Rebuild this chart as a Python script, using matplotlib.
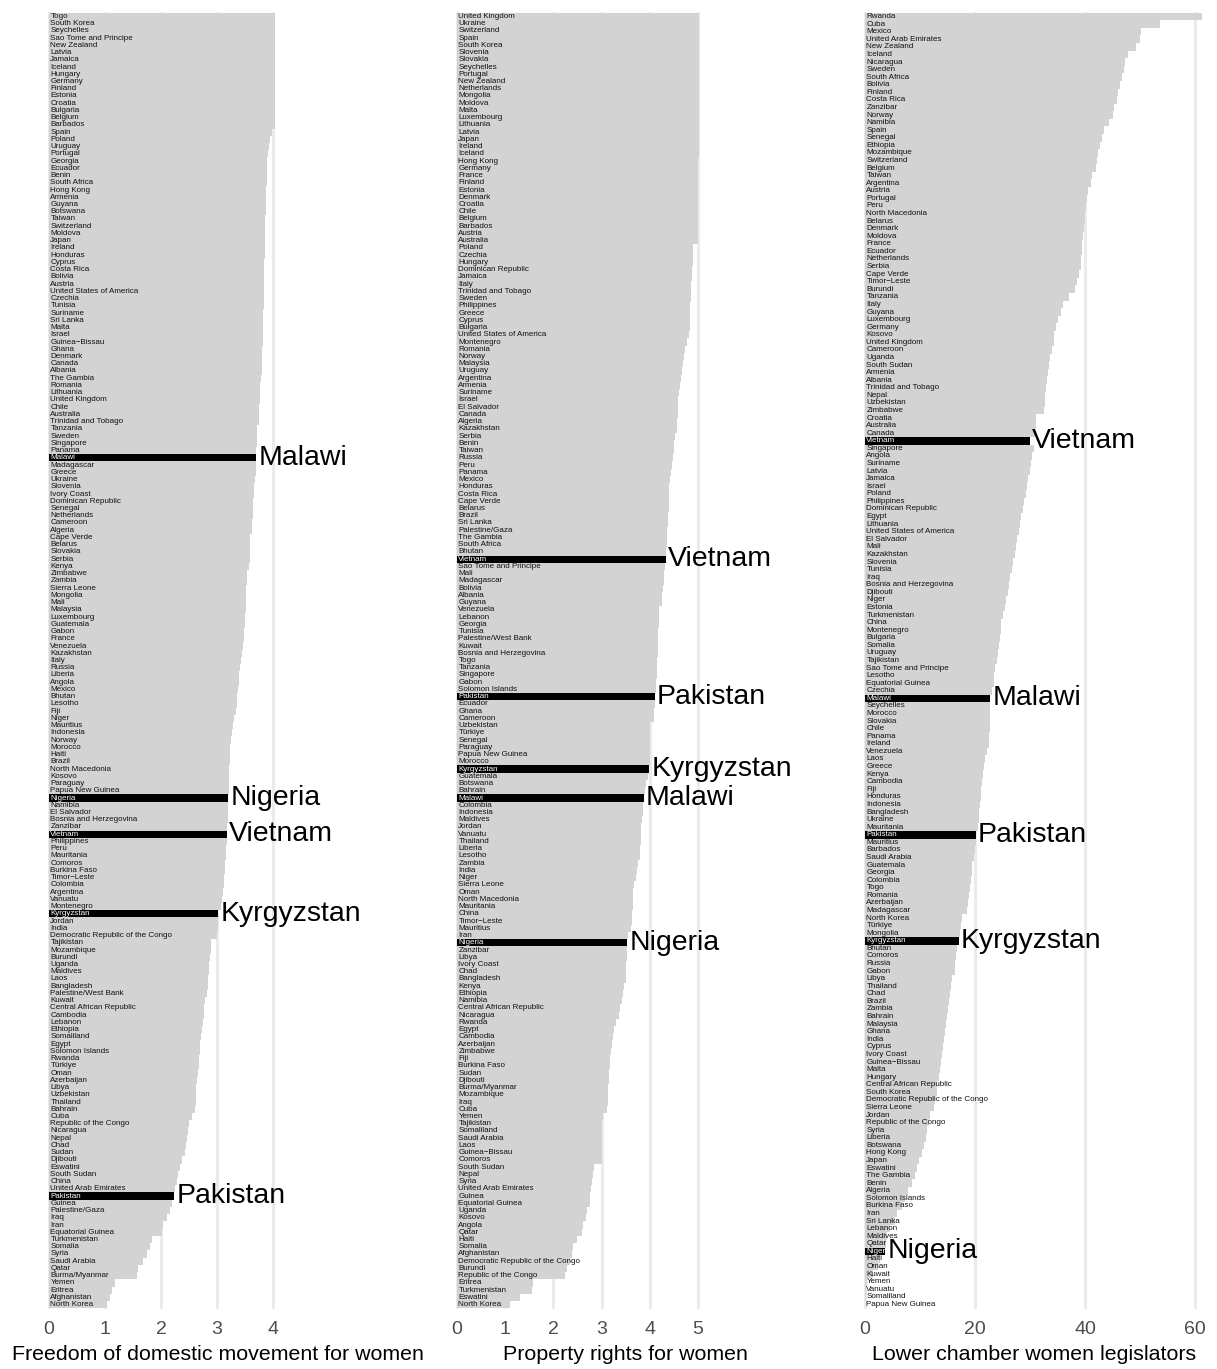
import matplotlib
matplotlib.use("Agg")
import matplotlib.pyplot as plt

plt.rcParams['font.family'] = ['Liberation Sans', 'DejaVu Sans']

HIGHLIGHT = ["Malawi", "Nigeria", "Vietnam", "Kyrgyzstan", "Pakistan"]

movement_countries = [
    "Togo", "South Korea", "Seychelles", "Sao Tome and Principe", "New Zealand", "Latvia", "Jamaica",
    "Iceland", "Hungary", "Germany", "Finland", "Estonia", "Croatia", "Bulgaria", "Belgium", "Barbados",
    "Spain", "Poland", "Uruguay", "Portugal", "Georgia", "Ecuador", "Benin", "South Africa", "Hong Kong",
    "Armenia", "Guyana", "Botswana", "Taiwan", "Switzerland", "Moldova", "Japan", "Ireland", "Honduras",
    "Cyprus", "Costa Rica", "Bolivia", "Austria", "United States of America", "Czechia", "Tunisia",
    "Suriname", "Sri Lanka", "Malta", "Israel", "Guinea\u2212Bissau", "Ghana", "Denmark", "Canada", "Albania",
    "The Gambia", "Romania", "Lithuania", "United Kingdom", "Chile", "Australia", "Trinidad and Tobago",
    "Tanzania", "Sweden", "Singapore", "Panama", "Malawi", "Madagascar", "Greece", "Ukraine", "Slovenia",
    "Ivory Coast", "Dominican Republic", "Senegal", "Netherlands", "Cameroon", "Algeria", "Cape Verde",
    "Belarus", "Slovakia", "Serbia", "Kenya", "Zimbabwe", "Zambia", "Sierra Leone", "Mongolia", "Mali",
    "Malaysia", "Luxembourg", "Guatemala", "Gabon", "France", "Venezuela", "Kazakhstan", "Italy", "Russia",
    "Liberia", "Angola", "Mexico", "Bhutan", "Lesotho", "Fiji", "Niger", "Mauritius", "Indonesia", "Norway",
    "Morocco", "Haiti", "Brazil", "North Macedonia", "Kosovo", "Paraguay", "Papua New Guinea", "Nigeria",
    "Namibia", "El Salvador", "Bosnia and Herzegovina", "Zanzibar", "Vietnam", "Philippines", "Peru",
    "Mauritania", "Comoros", "Burkina Faso", "Timor\u2212Leste", "Colombia", "Argentina", "Vanuatu",
    "Montenegro", "Kyrgyzstan", "Jordan", "India", "Democratic Republic of the Congo", "Tajikistan",
    "Mozambique", "Burundi", "Uganda", "Maldives", "Laos", "Bangladesh", "Palestine/West Bank", "Kuwait",
    "Central African Republic", "Cambodia", "Lebanon", "Ethiopia", "Somaliland", "Egypt", "Solomon Islands",
    "Rwanda", "T\u00fcrkiye", "Oman", "Azerbaijan", "Libya", "Uzbekistan", "Thailand", "Bahrain", "Cuba",
    "Republic of the Congo", "Nicaragua", "Nepal", "Chad", "Sudan", "Djibouti", "Eswatini", "South Sudan",
    "China", "United Arab Emirates", "Pakistan", "Guinea", "Palestine/Gaza", "Iraq", "Iran",
    "Equatorial Guinea", "Turkmenistan", "Somalia", "Syria", "Saudi Arabia", "Qatar", "Burma/Myanmar",
    "Yemen", "Eritrea", "Afghanistan", "North Korea"]
movement_values = [
    4.04, 4.04, 4.04, 4.04, 4.04, 4.04, 4.04, 4.04, 4.04, 4.04, 4.04, 4.04, 4.04, 4.04, 4.04, 4.04,
    3.98, 3.95, 3.93, 3.91, 3.90, 3.90, 3.89, 3.89, 3.88, 3.88, 3.87, 3.87, 3.86, 3.86, 3.86, 3.85,
    3.85, 3.85, 3.84, 3.84, 3.84, 3.84, 3.83, 3.83, 3.83, 3.82, 3.82, 3.82, 3.82, 3.82, 3.81, 3.81,
    3.81, 3.80, 3.79, 3.77, 3.77, 3.76, 3.75, 3.75, 3.74, 3.71, 3.71, 3.71, 3.70, 3.70, 3.69, 3.69,
    3.68, 3.66, 3.66, 3.65, 3.65, 3.64, 3.63, 3.62, 3.59, 3.59, 3.58, 3.58, 3.57, 3.53, 3.53, 3.52,
    3.52, 3.51, 3.51, 3.50, 3.50, 3.49, 3.49, 3.47, 3.45, 3.42, 3.41, 3.40, 3.39, 3.38, 3.36, 3.35,
    3.33, 3.31, 3.29, 3.27, 3.25, 3.24, 3.23, 3.23, 3.22, 3.22, 3.21, 3.21, 3.20, 3.20, 3.19, 3.19,
    3.18, 3.17, 3.17, 3.16, 3.16, 3.15, 3.14, 3.13, 3.12, 3.11, 3.09, 3.07, 3.02, 3.01, 3.01, 3.00,
    2.90, 2.89, 2.87, 2.85, 2.85, 2.84, 2.83, 2.82, 2.79, 2.77, 2.76, 2.75, 2.73, 2.71, 2.70, 2.69,
    2.68, 2.67, 2.66, 2.64, 2.63, 2.62, 2.62, 2.60, 2.56, 2.50, 2.49, 2.46, 2.45, 2.43, 2.38, 2.34,
    2.31, 2.28, 2.25, 2.24, 2.20, 2.16, 2.10, 2.04, 2.01, 1.84, 1.80, 1.75, 1.68, 1.59, 1.57, 1.18,
    1.12, 1.09, 1.04]

property_countries = [
    "United Kingdom", "Ukraine", "Switzerland", "Spain", "South Korea", "Slovenia", "Slovakia",
    "Seychelles", "Portugal", "New Zealand", "Netherlands", "Mongolia", "Moldova", "Malta", "Luxembourg",
    "Lithuania", "Latvia", "Japan", "Ireland", "Iceland", "Hong Kong", "Germany", "France", "Finland",
    "Estonia", "Denmark", "Croatia", "Chile", "Belgium", "Barbados", "Austria", "Australia", "Poland",
    "Czechia", "Hungary", "Dominican Republic", "Jamaica", "Italy", "Trinidad and Tobago", "Sweden",
    "Philippines", "Greece", "Cyprus", "Bulgaria", "United States of America", "Montenegro", "Romania",
    "Norway", "Malaysia", "Uruguay", "Argentina", "Armenia", "Suriname", "Israel", "El Salvador", "Canada",
    "Algeria", "Kazakhstan", "Serbia", "Benin", "Taiwan", "Russia", "Peru", "Panama", "Mexico", "Honduras",
    "Costa Rica", "Cape Verde", "Belarus", "Brazil", "Sri Lanka", "Palestine/Gaza", "The Gambia",
    "South Africa", "Bhutan", "Vietnam", "Sao Tome and Principe", "Mali", "Madagascar", "Bolivia",
    "Albania", "Guyana", "Venezuela", "Lebanon", "Georgia", "Tunisia", "Palestine/West Bank", "Kuwait",
    "Bosnia and Herzegovina", "Togo", "Tanzania", "Singapore", "Gabon", "Solomon Islands", "Pakistan",
    "Ecuador", "Ghana", "Cameroon", "Uzbekistan", "T\u00fcrkiye", "Senegal", "Paraguay", "Papua New Guinea",
    "Morocco", "Kyrgyzstan", "Guatemala", "Botswana", "Bahrain", "Malawi", "Colombia", "Indonesia",
    "Maldives", "Jordan", "Vanuatu", "Thailand", "Liberia", "Lesotho", "Zambia", "India", "Niger",
    "Sierra Leone", "Oman", "North Macedonia", "Mauritania", "China", "Timor\u2212Leste", "Mauritius", "Iran",
    "Nigeria", "Zanzibar", "Libya", "Ivory Coast", "Chad", "Bangladesh", "Kenya", "Ethiopia", "Namibia",
    "Central African Republic", "Nicaragua", "Rwanda", "Egypt", "Cambodia", "Azerbaijan", "Zimbabwe",
    "Fiji", "Burkina Faso", "Sudan", "Djibouti", "Burma/Myanmar", "Mozambique", "Iraq", "Cuba", "Yemen",
    "Tajikistan", "Somaliland", "Saudi Arabia", "Laos", "Guinea\u2212Bissau", "Comoros", "South Sudan",
    "Nepal", "Syria", "United Arab Emirates", "Guinea", "Equatorial Guinea", "Uganda", "Kosovo", "Angola",
    "Qatar", "Haiti", "Somalia", "Afghanistan", "Democratic Republic of the Congo", "Burundi",
    "Republic of the Congo", "Eritrea", "Turkmenistan", "Eswatini", "North Korea"]
property_values = [
    5.03, 5.03, 5.03, 5.03, 5.03, 5.03, 5.03, 5.03, 5.03, 5.03, 5.03, 5.03, 5.03, 5.03, 5.03, 5.03,
    5.03, 5.03, 5.03, 5.03, 5.00, 5.00, 5.00, 5.00, 5.00, 5.00, 5.00, 5.00, 5.00, 5.00, 5.00, 5.00,
    4.90, 4.90, 4.89, 4.87, 4.87, 4.86, 4.85, 4.85, 4.84, 4.84, 4.83, 4.83, 4.82, 4.78, 4.73, 4.72,
    4.70, 4.67, 4.65, 4.62, 4.61, 4.59, 4.58, 4.58, 4.57, 4.56, 4.52, 4.51, 4.50, 4.49, 4.46, 4.44,
    4.43, 4.41, 4.40, 4.39, 4.39, 4.38, 4.37, 4.36, 4.36, 4.35, 4.34, 4.33, 4.31, 4.30, 4.30, 4.28,
    4.26, 4.25, 4.19, 4.19, 4.19, 4.18, 4.18, 4.18, 4.17, 4.16, 4.15, 4.15, 4.13, 4.12, 4.11, 4.10,
    4.09, 4.09, 4.01, 4.01, 4.01, 4.01, 4.00, 4.00, 3.99, 3.97, 3.92, 3.91, 3.88, 3.87, 3.85, 3.83,
    3.82, 3.82, 3.81, 3.80, 3.79, 3.76, 3.73, 3.71, 3.67, 3.66, 3.66, 3.65, 3.64, 3.63, 3.61, 3.54,
    3.53, 3.52, 3.52, 3.51, 3.50, 3.50, 3.46, 3.45, 3.42, 3.38, 3.36, 3.31, 3.26, 3.23, 3.21, 3.19,
    3.18, 3.18, 3.16, 3.15, 3.14, 3.14, 3.13, 3.11, 3.02, 3.01, 3.01, 3.01, 3.01, 3.01, 3.00, 2.85,
    2.83, 2.80, 2.78, 2.76, 2.76, 2.69, 2.67, 2.61, 2.59, 2.50, 2.41, 2.38, 2.34, 2.29, 2.24, 1.58,
    1.55, 1.31, 1.10]

legislators_countries = [
    "Rwanda", "Cuba", "Mexico", "United Arab Emirates", "New Zealand", "Iceland", "Nicaragua", "Sweden",
    "South Africa", "Bolivia", "Finland", "Costa Rica", "Zanzibar", "Norway", "Namibia", "Spain", "Senegal",
    "Ethiopia", "Mozambique", "Switzerland", "Belgium", "Taiwan", "Argentina", "Austria", "Portugal",
    "Peru", "North Macedonia", "Belarus", "Denmark", "Moldova", "France", "Ecuador", "Netherlands",
    "Serbia", "Cape Verde", "Timor\u2212Leste", "Burundi", "Tanzania", "Italy", "Guyana", "Luxembourg",
    "Germany", "Kosovo", "United Kingdom", "Cameroon", "Uganda", "South Sudan", "Armenia", "Albania",
    "Trinidad and Tobago", "Nepal", "Uzbekistan", "Zimbabwe", "Croatia", "Australia", "Canada", "Vietnam",
    "Singapore", "Angola", "Suriname", "Latvia", "Jamaica", "Israel", "Poland", "Philippines",
    "Dominican Republic", "Egypt", "Lithuania", "United States of America", "El Salvador", "Mali",
    "Kazakhstan", "Slovenia", "Tunisia", "Iraq", "Bosnia and Herzegovina", "Djibouti", "Niger", "Estonia",
    "Turkmenistan", "China", "Montenegro", "Bulgaria", "Somalia", "Uruguay", "Tajikistan",
    "Sao Tome and Principe", "Lesotho", "Equatorial Guinea", "Czechia", "Malawi", "Seychelles", "Morocco",
    "Slovakia", "Chile", "Panama", "Ireland", "Venezuela", "Laos", "Greece", "Kenya", "Cambodia", "Fiji",
    "Honduras", "Indonesia", "Bangladesh", "Ukraine", "Mauritania", "Pakistan", "Mauritius", "Barbados",
    "Saudi Arabia", "Guatemala", "Georgia", "Colombia", "Togo", "Romania", "Azerbaijan", "Madagascar",
    "North Korea", "T\u00fcrkiye", "Mongolia", "Kyrgyzstan", "Bhutan", "Comoros", "Russia", "Gabon", "Libya",
    "Thailand", "Chad", "Brazil", "Zambia", "Bahrain", "Malaysia", "Ghana", "India", "Cyprus",
    "Ivory Coast", "Guinea\u2212Bissau", "Malta", "Hungary", "Central African Republic", "South Korea",
    "Democratic Republic of the Congo", "Sierra Leone", "Jordan", "Republic of the Congo", "Syria",
    "Liberia", "Botswana", "Hong Kong", "Japan", "Eswatini", "The Gambia", "Benin", "Algeria",
    "Solomon Islands", "Burkina Faso", "Iran", "Sri Lanka", "Lebanon", "Maldives", "Qatar", "Nigeria",
    "Haiti", "Oman", "Kuwait", "Yemen", "Vanuatu", "Somaliland", "Papua New Guinea"]
legislators_values = [
    61.3, 53.6, 50.2, 50.0, 49.3, 47.8, 47.3, 47.0, 46.7, 46.4, 46.0, 45.8, 45.3, 45.0, 44.3, 43.4,
    43.0, 42.7, 42.4, 42.2, 41.9, 41.3, 41.0, 40.5, 40.4, 40.2, 40.0, 39.9, 39.8, 39.6, 39.5, 39.4,
    39.3, 39.2, 38.9, 38.5, 38.1, 37.0, 36.0, 35.7, 35.1, 34.8, 34.4, 34.3, 34.0, 33.7, 33.5, 33.3,
    33.1, 32.9, 32.8, 32.7, 32.5, 31.1, 31.0, 30.9, 30.0, 30.7, 30.4, 30.2, 29.9, 29.7, 29.4, 29.2,
    28.9, 28.7, 28.4, 28.2, 27.9, 27.7, 27.4, 27.2, 26.9, 26.7, 26.4, 26.2, 26.0, 25.7, 25.4, 25.1,
    24.8, 24.7, 24.5, 24.4, 24.2, 24.0, 23.7, 23.5, 23.4, 23.1, 22.8, 22.8, 22.8, 22.7, 22.7, 22.6,
    22.5, 22.2, 21.8, 21.6, 21.4, 21.3, 21.1, 21.0, 20.9, 20.8, 20.7, 20.5, 20.1, 20.1, 20.0, 19.8,
    19.5, 19.4, 19.2, 19.0, 18.9, 18.7, 18.5, 17.6, 17.4, 17.3, 17.0, 16.7, 16.6, 16.4, 16.3, 15.9,
    15.7, 15.5, 15.3, 15.1, 14.9, 14.7, 14.5, 14.3, 14.2, 14.0, 13.8, 13.6, 13.4, 13.1, 13.0, 12.8,
    12.5, 11.9, 11.6, 11.3, 11.0, 10.7, 10.4, 9.9, 9.5, 9.1, 8.5, 7.9, 7.3, 6.7, 5.8, 5.4, 4.6, 4.0,
    3.8, 3.7, 2.7, 2.3, 1.5, 0.3, 0.2, 0.2, 0.0]

movement_ticks = [0, 1, 2, 3, 4]
property_ticks = [0, 1, 2, 3, 4, 5]
legislators_ticks = [0, 20, 40, 60]

W, H = 1217, 1369


def draw_panel(fig, left_px, countries, values, ticks, xlim, title):
    top_px, bottom_px = 12, 1309
    ax = fig.add_axes([left_px / W, 1 - bottom_px / H, 352 / W, (bottom_px - top_px) / H])
    n = len(countries)
    colors = ['black' if c in HIGHLIGHT else '#D3D3D3' for c in countries]
    ax.barh(range(n), values, height=1.0, color=colors, linewidth=0)
    ax.set_ylim(n - 0.5 + 0.1, -0.5 - 0.1)
    ax.set_xlim(xlim)
    ax.set_xticks(ticks)
    ax.set_xticklabels([str(t) for t in ticks])
    ax.set_yticks([])
    ax.grid(axis='x', color='#EBEBEB', linewidth=2.2)
    ax.set_axisbelow(True)
    for s in ax.spines.values():
        s.set_visible(False)
    ax.tick_params(axis='x', length=0, pad=9, labelsize=14, labelcolor='#4D4D4D')
    ax.set_xlabel(title, fontsize=15.4, labelpad=5)

    for i, (c, v) in enumerate(zip(countries, values)):
        hl = c in HIGHLIGHT
        ax.annotate(c, (0, i), xytext=(1.0, 0), textcoords='offset points',
                    fontsize=5.8, va='center', ha='left',
                    color='white' if hl else '#111111')
        if hl:
            ax.annotate(c, (v, i), xytext=(1.5, 0), textcoords='offset points',
                        fontsize=20.5, va='center', ha='left', color='black',
                        annotation_clip=False)
    return ax


fig = plt.figure(figsize=(W / 100, H / 100), dpi=100)
fig.patch.set_facecolor('white')

draw_panel(fig, 41.5, movement_countries, movement_values, movement_ticks,
           (-0.134, 6.15), "Freedom of domestic movement for women")
draw_panel(fig, 449.5, property_countries, property_values, property_ticks,
           (-0.156, 7.15), "Property rights for women")
draw_panel(fig, 858, legislators_countries, legislators_values, legislators_ticks,
           (-1.27, 62.7), "Lower chamber women legislators")

fig.savefig("out.png", dpi=100, facecolor='white')
